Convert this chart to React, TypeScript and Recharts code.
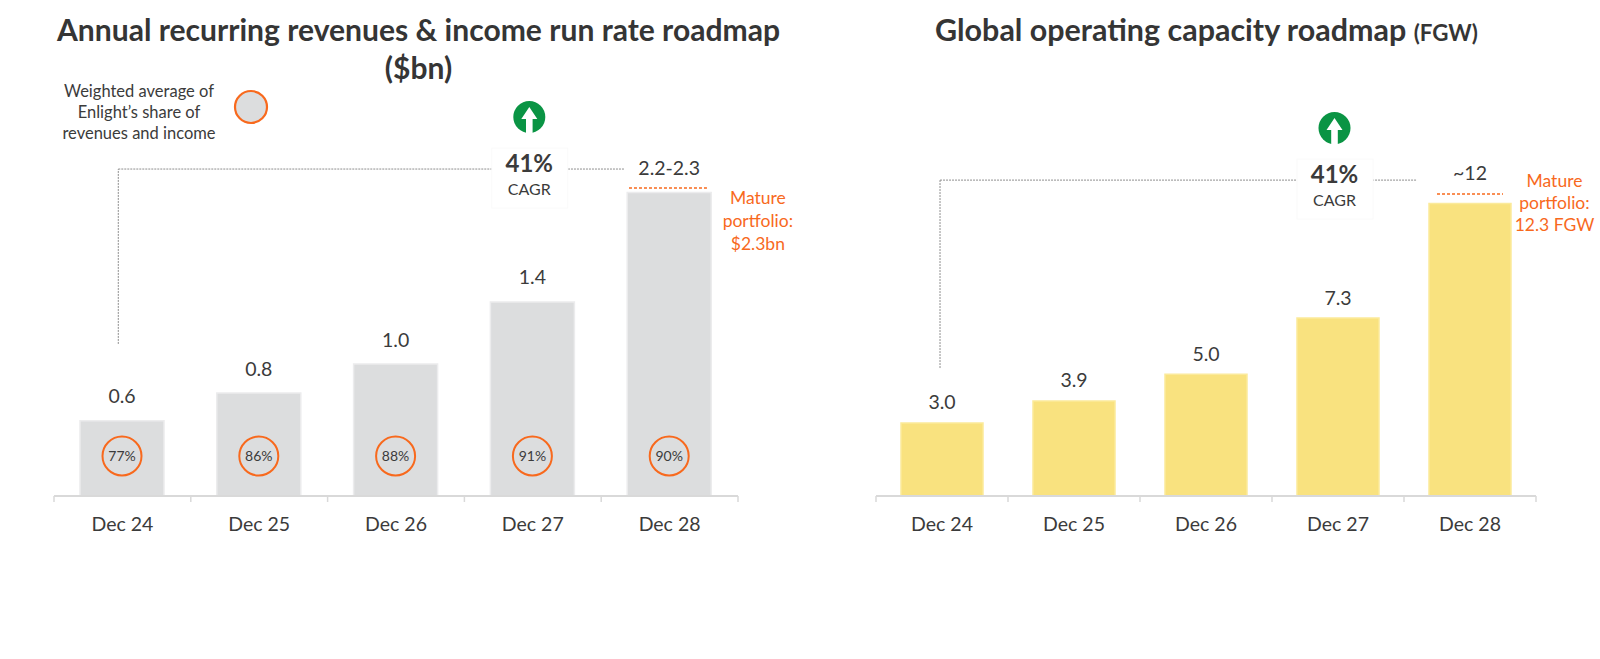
import React from 'react';
import { BarChart, Bar, XAxis, YAxis, ReferenceLine, ReferenceDot, LabelList } from 'recharts';

// ---------- data ----------
const categories = ['Dec 24', 'Dec 25', 'Dec 26', 'Dec 27', 'Dec 28'];
const revenueValues = [0.57, 0.78, 1.0, 1.47, 2.3];
const revenueLabels = ['0.6', '0.8', '1.0', '1.4', '2.2-2.3'];
const shareLabels = ['77%', '86%', '88%', '91%', '90%'];
const capacityValues = [3.0, 3.9, 5.0, 7.3, 12.0];
const capacityLabels = ['3.0', '3.9', '5.0', '7.3', '~12'];
const cagrValue = '41%';
const cagrText = 'CAGR';
const revenueTitle = ['Annual recurring revenues & income run rate roadmap', '($bn)'];
const capacityTitle = ['Global operating capacity roadmap', '(FGW)'];
const revenueMature = ['Mature', 'portfolio:', '$2.3bn'];
const capacityMature = ['Mature', 'portfolio:', '12.3 FGW'];
const legendLines = ['Weighted average of', 'Enlight\u2019s share of', 'revenues and income'];

const revenueData = categories.map((cat, i) => ({
  cat,
  pos: i + 0.5,
  value: revenueValues[i],
  label: revenueLabels[i],
  share: shareLabels[i],
}));
const capacityData = categories.map((cat, i) => ({
  cat,
  pos: i + 0.5,
  value: capacityValues[i],
  label: capacityLabels[i],
}));

// ---------- styles ----------
const FONT = 'Lato, "Open Sans", sans-serif';
const TEXT = '#3b3b3b';
const TITLE = '#353535';
const ORANGE = '#f8691d';
const GREEN = '#0a9444';
const AXIS = '#d9d9d9';
const BRACKET = '#8e8e8e';

const CategoryTick = (props: any) => {
  const { x, y, payload } = props;
  return (
    <text x={x} y={y + 35} textAnchor="middle" fontFamily={FONT} fontSize={19.5} fill={TEXT}>
      {payload.value}
    </text>
  );
};

const getBox = (props: any) => {
  const vb = props.viewBox || {};
  return {
    x: props.x ?? vb.x,
    y: props.y ?? vb.y,
    width: props.width ?? vb.width,
    height: props.height ?? vb.height,
  };
};

const makeValueLabel = (labels: string[], gap: number, lastGap: number) => (props: any) => {
  const { x, y, width } = getBox(props);
  const idx = props.index ?? labels.indexOf(props.value);
  const g = idx === labels.length - 1 ? lastGap : gap;
  return (
    <text x={x + width / 2} y={y - g} textAnchor="middle" fontFamily={FONT} fontSize={19.5} fill={TEXT}>
      {props.value}
    </text>
  );
};

const ShareCircle = (props: any) => {
  const { x, y, width, height } = getBox(props);
  const cx = x + width / 2;
  const cy = y + height - 40;
  return (
    <g>
      <circle cx={cx} cy={cy} r={19.5} fill="none" stroke={ORANGE} strokeWidth={2} />
      <text x={cx} y={cy + 5} textAnchor="middle" fontFamily={FONT} fontSize={14} fill={TEXT}>
        {props.value}
      </text>
    </g>
  );
};

const CagrBadge = (props: any) => {
  const { cx, cy } = props;
  const c = cx - 3.5;
  const a = cy - 52;
  const arrow = [
    [c, a - 10],
    [c + 8, a + 2],
    [c + 3.3, a + 2],
    [c + 3.3, a + 17],
    [c - 3.3, a + 17],
    [c - 3.3, a + 2],
    [c - 8, a + 2],
  ]
    .map((p) => p.join(','))
    .join(' ');
  return (
    <g>
      <rect x={cx - 41} y={cy - 21} width={76} height={60} fill="#ffffff" stroke="#fafafa" />
      <circle cx={c} cy={a} r={16} fill={GREEN} />
      <polygon points={arrow} fill="#ffffff" />
      <text x={c} y={cy + 3} textAnchor="middle" fontFamily={FONT} fontWeight={700} fontSize={24} fill={TEXT}>
        {cagrValue}
      </text>
      <text x={c} y={cy + 26} textAnchor="middle" fontFamily={FONT} fontSize={16} fill={TEXT}>
        {cagrText}
      </text>
    </g>
  );
};

const makeMature = (lines: string[], lh: number) => (props: any) => (
  <text x={props.cx} y={props.cy} textAnchor="middle" fontFamily={FONT} fontSize={17.5} fill={ORANGE}>
    {lines.map((l, i) => (
      <tspan key={i} x={props.cx} dy={i === 0 ? 0 : lh}>
        {l}
      </tspan>
    ))}
  </text>
);

const boundaryTicks = (pxPerUnit: number) =>
  [0, 1, 2, 3, 4, 5].map((i) => (
    <ReferenceLine
      key={'b' + i}
      xAxisId="n"
      segment={[
        { x: i, y: 0 },
        { x: i, y: -6 / pxPerUnit },
      ]}
      stroke={AXIS}
      strokeWidth={1.5}
      ifOverflow="visible"
    />
  ));

const bracketLine = (pts: { x: number; y: number }[], key: string) => (
  <ReferenceLine
    key={key}
    xAxisId="n"
    segment={pts as any}
    stroke={BRACKET}
    strokeWidth={1}
    strokeDasharray="2 1"
    ifOverflow="visible"
  />
);

const RevenueChart = () => (
  <BarChart
    width={800}
    height={600}
    data={revenueData}
    margin={{ top: 100, right: 62, bottom: 64, left: 54 }}
  >
    <XAxis xAxisId="n" type="number" dataKey="pos" domain={[0, 5]} allowDataOverflow hide />
    <XAxis
      xAxisId="cat"
      dataKey="cat"
      type="category"
      axisLine={{ stroke: AXIS, strokeWidth: 2 }}
      tickLine={false}
      tickSize={0}
      tickMargin={0}
      interval={0}
      height={40}
      tick={<CategoryTick />}
    />
    <YAxis hide domain={[0, 3]} allowDataOverflow />
    {bracketLine([{ x: 0.47, y: 1.152 }, { x: 0.47, y: 2.477 }], 'v')}
    {bracketLine([{ x: 0.47, y: 2.477 }, { x: 3.21, y: 2.477 }], 'h1')}
    {bracketLine([{ x: 3.757, y: 2.477 }, { x: 4.167, y: 2.477 }], 'h2')}
    <ReferenceLine
      xAxisId="n"
      segment={[
        { x: 4.203, y: 2.333 },
        { x: 4.773, y: 2.333 },
      ]}
      stroke={ORANGE}
      strokeWidth={1.5}
      strokeDasharray="3 2"
      ifOverflow="visible"
    />
    {boundaryTicks(132)}
    <Bar
      xAxisId="cat"
      dataKey="value"
      barSize={84}
      fill="#dcddde"
      stroke="#ececed"
      strokeWidth={1.5}
      isAnimationActive={false}
    >
      <LabelList dataKey="label" content={makeValueLabel(revenueLabels, 17.5, 17.5)} />
      <LabelList dataKey="share" content={<ShareCircle />} />
    </Bar>
    <ReferenceDot xAxisId="n" x={3.5} y={2.477} r={1} ifOverflow="visible" shape={CagrBadge} />
    <ReferenceDot
      xAxisId="n"
      x={5.145}
      y={2.212}
      r={1}
      ifOverflow="visible"
      shape={makeMature(revenueMature, 23)}
    />
  </BarChart>
);

const CapacityChart = () => (
  <BarChart
    width={800}
    height={600}
    data={capacityData}
    margin={{ top: 106, right: 64, bottom: 64, left: 76 }}
  >
    <XAxis xAxisId="n" type="number" dataKey="pos" domain={[0, 5]} allowDataOverflow hide />
    <XAxis
      xAxisId="cat"
      dataKey="cat"
      type="category"
      axisLine={{ stroke: AXIS, strokeWidth: 2 }}
      tickLine={false}
      tickSize={0}
      tickMargin={0}
      interval={0}
      height={40}
      tick={<CategoryTick />}
    />
    <YAxis hide domain={[0, 16]} allowDataOverflow />
    {bracketLine([{ x: 0.485, y: 5.25 }, { x: 0.485, y: 12.96 }], 'v')}
    {bracketLine([{ x: 0.485, y: 12.96 }, { x: 3.197, y: 12.96 }], 'h1')}
    {bracketLine([{ x: 3.758, y: 12.96 }, { x: 4.098, y: 12.96 }], 'h2')}
    <ReferenceLine
      xAxisId="n"
      segment={[
        { x: 4.25, y: 12.39 },
        { x: 4.75, y: 12.39 },
      ]}
      stroke={ORANGE}
      strokeWidth={1.5}
      strokeDasharray="3 2"
      ifOverflow="visible"
    />
    {boundaryTicks(24.375)}
    <Bar
      xAxisId="cat"
      dataKey="value"
      barSize={82}
      fill="#f9e27f"
      stroke="#fbea9b"
      strokeWidth={1.5}
      isAnimationActive={false}
    >
      <LabelList dataKey="label" content={makeValueLabel(capacityLabels, 13.5, 23.5)} />
    </Bar>
    <ReferenceDot xAxisId="n" x={3.5} y={12.96} r={1} ifOverflow="visible" shape={CagrBadge} />
    <ReferenceDot
      xAxisId="n"
      x={5.14}
      y={12.68}
      r={1}
      ifOverflow="visible"
      shape={makeMature(capacityMature, 22)}
    />
  </BarChart>
);

const Overlay = () => (
  <svg width={1600} height={659} style={{ position: 'absolute', left: 0, top: 0, pointerEvents: 'none' }}>
    <text
      x={418.5}
      y={41}
      textAnchor="middle"
      fontFamily={FONT}
      fontWeight={700}
      fontSize={30}
      fill={TITLE}
      textLength={723}
      lengthAdjust="spacingAndGlyphs"
    >
      {revenueTitle[0]}
    </text>
    <text x={418.5} y={79} textAnchor="middle" fontFamily={FONT} fontWeight={700} fontSize={30} fill={TITLE}>
      {revenueTitle[1]}
    </text>
    <text
      x={1206.5}
      y={41}
      textAnchor="middle"
      fontFamily={FONT}
      fill={TITLE}
      textLength={543}
      lengthAdjust="spacingAndGlyphs"
    >
      <tspan fontWeight={700} fontSize={30}>
        {capacityTitle[0] + ' '}
      </tspan>
      <tspan fontWeight={700} fontSize={22}>
        {capacityTitle[1]}
      </tspan>
    </text>
    {legendLines.map((l, i) => (
      <text key={i} x={139} y={97 + i * 21} textAnchor="middle" fontFamily={FONT} fontSize={16.5} fill={TEXT}>
        {l}
      </text>
    ))}
    <circle cx={251} cy={107} r={16} fill="#dcddde" stroke={ORANGE} strokeWidth={2.2} />
  </svg>
);

export default function App() {
  return (
    <div
      style={{
        position: 'absolute',
        left: 0,
        top: 0,
        width: 1600,
        height: 659,
        background: '#ffffff',
        overflow: 'hidden',
      }}
    >
      <div style={{ position: 'absolute', left: 0, top: 0 }}>
        <RevenueChart />
      </div>
      <div style={{ position: 'absolute', left: 800, top: 0 }}>
        <CapacityChart />
      </div>
      <Overlay />
    </div>
  );
}
